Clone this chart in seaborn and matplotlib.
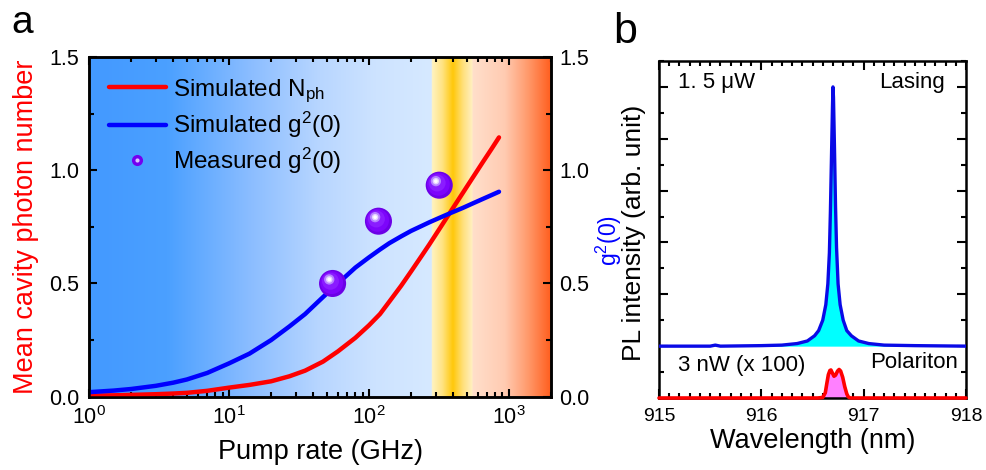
import numpy as np
import pandas as pd
import seaborn as sns
import matplotlib
matplotlib.use("Agg")
import matplotlib.pyplot as plt
from matplotlib.colors import LinearSegmentedColormap
from matplotlib.lines import Line2D
from matplotlib.legend_handler import HandlerTuple
from matplotlib.ticker import MultipleLocator, LogLocator, LogFormatterMathtext, NullFormatter
import matplotlib.transforms as mtransforms

# ---------------- data ----------------
pump_rate = [1, 1.5, 2, 3, 4, 5, 7, 10, 14, 20, 27, 35, 47, 60, 80, 100, 120, 140, 170, 200,
             240, 270, 320, 390, 470, 550, 650, 750, 850]
sim_nph = [0.005, 0.006, 0.008, 0.011, 0.014, 0.017, 0.026, 0.04, 0.052, 0.068, 0.09, 0.115,
           0.155, 0.20, 0.26, 0.315, 0.365, 0.42, 0.49, 0.553,
           0.625, 0.672, 0.742, 0.824, 0.901, 0.966, 1.035, 1.093, 1.145]
sim_g2 = [0.02, 0.027, 0.034, 0.048, 0.062, 0.076, 0.105, 0.147, 0.19, 0.25, 0.31, 0.365,
          0.44, 0.50, 0.57, 0.615, 0.65, 0.678, 0.708, 0.732,
          0.755, 0.77, 0.79, 0.813, 0.834, 0.853, 0.873, 0.89, 0.905]
meas_pump = [55, 117, 318]
meas_g2 = [0.50, 0.775, 0.934]

wavelength_las = [915.0, 915.5, 915.55, 915.6, 916.0, 916.2, 916.35, 916.45, 916.52, 916.56, 916.60,
                  916.63, 916.65, 916.665, 916.675, 916.685, 916.695, 916.70, 916.705, 916.715,
                  916.725, 916.735, 916.75, 916.77, 916.80, 916.835, 916.88, 916.95, 917.05,
                  917.2, 917.5, 918.0]
intensity_las = [1.0, 1.0, 1.02, 1.0, 1.01, 1.02, 1.05, 1.1, 1.2, 1.3, 1.5,
                 1.8, 2.2, 2.8, 3.6, 4.6, 5.6, 6.0, 5.8, 4.8,
                 3.7, 2.9, 2.2, 1.8, 1.5, 1.3, 1.2, 1.1, 1.05,
                 1.02, 1.01, 1.0]
wavelength_pol = [915.0, 916.55, 916.60, 916.625, 916.64, 916.655, 916.67, 916.68, 916.695, 916.71,
                  916.725, 916.745, 916.76, 916.775, 916.795, 916.815, 916.835, 916.85, 916.87, 918.0]
intensity_pol = [0.0, 0.0, 0.01, 0.1, 0.28, 0.45, 0.53, 0.54, 0.48, 0.42,
                 0.44, 0.52, 0.55, 0.52, 0.40, 0.22, 0.08, 0.02, 0.0, 0.0]
lasing_baseline = 1.0

x_ticks_a = [1, 10, 100, 1000]
y_ticks_a = [0.0, 0.5, 1.0, 1.5]
x_ticks_b = [915, 916, 917, 918]

# ---------------- style ----------------
sns.set_theme(style="ticks")
plt.rcParams['font.family'] = ['Liberation Sans', 'DejaVu Sans']
plt.rcParams['mathtext.fontset'] = 'custom'
plt.rcParams['mathtext.rm'] = 'Liberation Sans'
plt.rcParams['mathtext.it'] = 'Liberation Sans:italic'
plt.rcParams['mathtext.bf'] = 'Liberation Sans:bold'
plt.rcParams['axes.linewidth'] = 1.8
for k in ['text.color', 'axes.labelcolor', 'xtick.color', 'ytick.color', 'axes.edgecolor']:
    plt.rcParams[k] = 'black'

W, H = 986, 470
fig = plt.figure(figsize=(W / 100, H / 100), dpi=100)

def rect(l, t, r, b):
    return [l / W, 1 - b / H, (r - l) / W, (b - t) / H]

# ---------------- panel a ----------------
ra = rect(89, 57, 551, 396.7)
bg = fig.add_axes(ra, zorder=0)
stops = [(0.0, '#4399ff'), (0.17, '#4ba0ff'), (0.35, '#8bbdff'), (0.50, '#b8d6ff'),
         (0.62, '#cde3ff'), (0.742, '#d6e9ff'), (0.7425, '#fff3c2'), (0.765, '#ffe383'),
         (0.788, '#ffc80a'), (0.81, '#ffe07c'), (0.830, '#fff0c2'), (0.8305, '#ffdfcb'),
         (0.90, '#ffcbb2'), (0.95, '#ff9a6c'), (1.0, '#ff5e1e')]
cmap = LinearSegmentedColormap.from_list('bg', stops, N=2048)
bg.imshow(np.linspace(0, 1, 2048).reshape(1, -1), cmap=cmap, aspect='auto',
          extent=[0, 1, 0, 1], interpolation='bilinear')
bg.set_axis_off()

ax = fig.add_axes(ra, zorder=1)
ax.set_facecolor('none')
ax.set_xscale('log')
ax.set_xlim(1, 2000)
ax.set_ylim(0, 1.5)

df_a = pd.DataFrame({'pump': pump_rate, 'nph': sim_nph, 'g2': sim_g2})
sns.lineplot(data=df_a, x='pump', y='nph', ax=ax, color='#ff0000', lw=3.2, zorder=3)
sns.lineplot(data=df_a, x='pump', y='g2', ax=ax, color='#0000ff', lw=3.2, zorder=3)

df_m = pd.DataFrame({'pump': meas_pump, 'g2': meas_g2})
sns.scatterplot(data=df_m, x='pump', y='g2', ax=ax, s=380, color='#6c00e6', edgecolor='none',
                zorder=5, legend=False)
layers = [(-0.6, 0.6, 270, '#7d05fb'), (-1.5, 1.6, 150, '#8a1cff'),
          (-2.4, 2.9, 55, '#b684ff'), (-2.4, 2.9, 22, '#e6d2ff'), (-2.4, 2.9, 7, '#ffffff')]
for dx, dy, s, c in layers:
    tr = mtransforms.offset_copy(ax.transData, fig=fig, x=dx, y=dy, units='points')
    ax.scatter(meas_pump, meas_g2, s=s, color=c, edgecolor='none', zorder=6, transform=tr)

ax.set_xticks(x_ticks_a)
ax.xaxis.set_major_formatter(LogFormatterMathtext())
ax.xaxis.set_minor_locator(LogLocator(base=10, subs=np.arange(2, 10), numticks=20))
ax.xaxis.set_minor_formatter(NullFormatter())
ax.set_yticks(y_ticks_a)
ax.set_yticklabels([f'{v:.1f}' for v in y_ticks_a])
ax.yaxis.set_minor_locator(MultipleLocator(0.25))
ax.tick_params(which='both', direction='in', top=True, right=False, labelsize=15.5,
               width=1.5, colors='black')
ax.tick_params(which='major', length=6, pad=7)
ax.tick_params(which='minor', length=3.5)
ax.set_xlabel('Pump rate (GHz)', fontsize=19.5)
ax.set_ylabel('Mean cavity photon number', fontsize=19.5, color='#ff0000')
ax.xaxis.set_label_coords(0.5, -0.125)
ax.yaxis.set_label_coords(-0.108, 0.5)

ax2 = ax.twinx()
ax2.set_ylim(0, 1.5)
ax2.set_yticks(y_ticks_a)
ax2.set_yticklabels([f'{v:.1f}' for v in y_ticks_a])
ax2.yaxis.set_minor_locator(MultipleLocator(0.25))
ax2.tick_params(which='both', direction='in', labelsize=15.5, width=1.5, colors='black')
ax2.tick_params(which='major', length=6, pad=6)
ax2.tick_params(which='minor', length=3.5)
ax2.set_ylabel('g$^\\mathregular{2}$(0)', fontsize=16.5, color='#0000ff')
ax2.yaxis.set_label_coords(1.093, 0.46)
for a_ in (ax, ax2):
    for sp in a_.spines.values():
        sp.set_linewidth(1.8)
        sp.set_color('black')

h_red = Line2D([], [], color='#ff0000', lw=3.2)
h_blue = Line2D([], [], color='#0000ff', lw=3.2)
h_m1 = Line2D([], [], ls='none', marker='o', ms=8, color='#7300f0', mec='none')
h_m2 = Line2D([], [], ls='none', marker='o', ms=3, color='#d9c2ff', mec='none')
leg = ax.legend([h_red, h_blue, (h_m1, h_m2)],
                ['Simulated N$_\\mathregular{ph}$', 'Simulated g$^\\mathregular{2}$(0)',
                 'Measured g$^\\mathregular{2}$(0)'],
                handler_map={tuple: HandlerTuple(ndivide=1)},
                loc='upper left', bbox_to_anchor=(0.043, 0.94), frameon=False,
                fontsize=17.5, handlelength=2.35, handletextpad=0.3, labelspacing=0.22,
                borderpad=0, borderaxespad=0)
leg.set_zorder(10)

# ---------------- panel b ----------------
axb = fig.add_axes(rect(659, 61, 966, 398), zorder=1)
axb.set_xlim(915, 918)
axb.set_ylim(0, 6.5)
df_l = pd.DataFrame({'wl': wavelength_las, 'I': intensity_las})
df_p = pd.DataFrame({'wl': wavelength_pol, 'I': intensity_pol})
axb.fill_between(wavelength_las, lasing_baseline, intensity_las, color='#00ffff', lw=0, zorder=2)
axb.fill_between(wavelength_pol, 0, intensity_pol, color='#ff80ff', lw=0, zorder=2)
sns.lineplot(data=df_l, x='wl', y='I', ax=axb, color='#0a0ae6', lw=2.4, zorder=3, sort=False)
sns.lineplot(data=df_p, x='wl', y='I', ax=axb, color='#ff0000', lw=2.6, zorder=6, sort=False,
             clip_on=False)
axb.set_xticks(x_ticks_b)
axb.set_xticklabels([str(v) for v in x_ticks_b])
axb.xaxis.set_minor_locator(MultipleLocator(0.1))
axb.yaxis.set_major_locator(MultipleLocator(1))
axb.yaxis.set_minor_locator(MultipleLocator(0.5))
axb.tick_params(which='both', direction='in', top=True, right=True, labelleft=False,
                labelsize=14, width=1.5, colors='black')
axb.tick_params(which='major', length=6.5, pad=7)
axb.tick_params(which='minor', length=3.5)
for sp in axb.spines.values():
    sp.set_linewidth(1.8)
    sp.set_color('black')
axb.set_xlabel('Wavelength (nm)', fontsize=19.5)
axb.set_ylabel('PL intensity (arb. unit)', fontsize=19)
axb.xaxis.set_label_coords(0.5, -0.088)
axb.yaxis.set_label_coords(-0.042, 0.49)

axb.text(0.062, 0.935, '1. 5 \u03bcW', transform=axb.transAxes, fontsize=16, ha='left', va='center')
axb.text(0.93, 0.935, 'Lasing', transform=axb.transAxes, fontsize=16, ha='right', va='center')
axb.text(0.062, 0.095, '3 nW (x 100)', transform=axb.transAxes, fontsize=16, ha='left', va='center')
axb.text(0.975, 0.105, 'Polariton', transform=axb.transAxes, fontsize=16, ha='right', va='center')

# ---------------- panel letters ----------------
fig.text(22.5 / W, 1 - 33 / H, 'a', fontsize=28, ha='center', va='baseline')
fig.text(625 / W, 1 - 43 / H, 'b', fontsize=31, ha='center', va='baseline')

fig.savefig('out.png', dpi=100)
